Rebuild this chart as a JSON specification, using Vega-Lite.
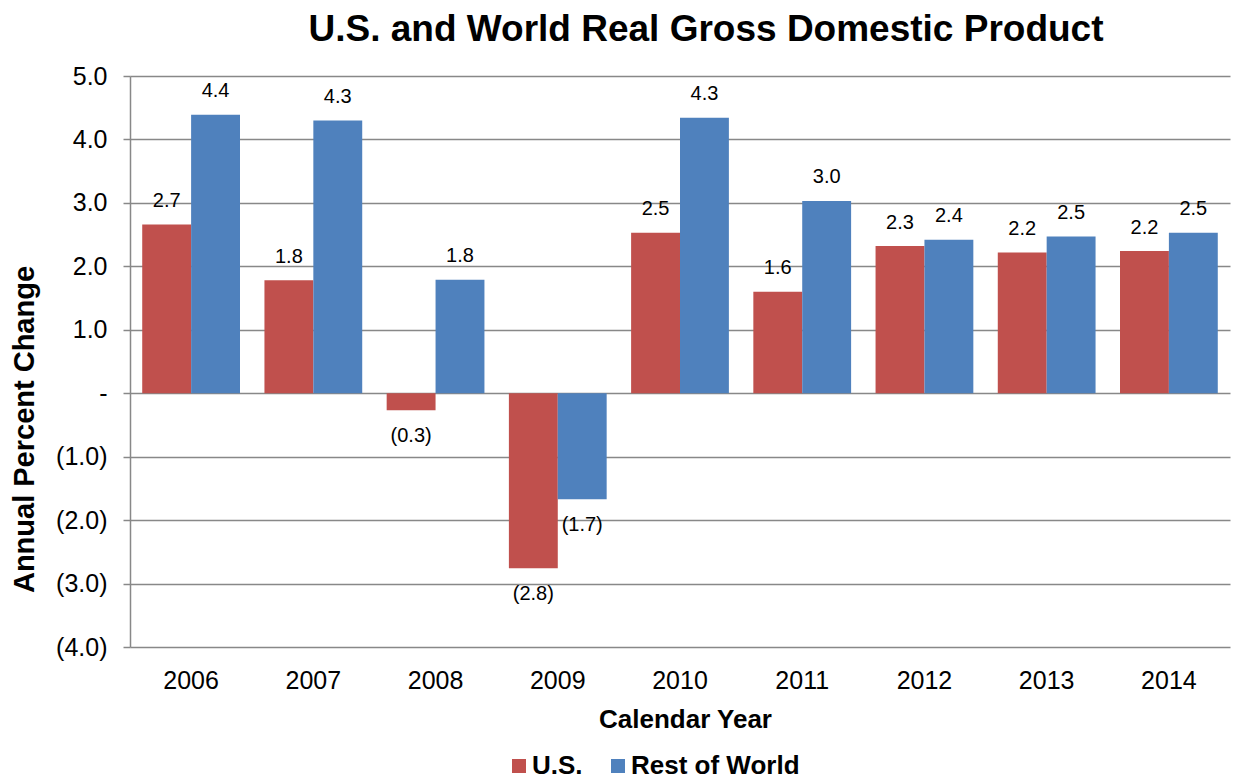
{
  "$schema": "https://vega.github.io/schema/vega-lite/v6.json",
  "width": 1100,
  "height": 571,
  "autosize": {"type": "none"},
  "padding": {"left": 130, "top": 76, "right": 5, "bottom": 133},
  "background": "white",
  "title": {
    "text": "U.S. and World Real Gross Domestic Product",
    "font": "Liberation Sans",
    "fontSize": 37,
    "fontWeight": "bold",
    "color": "#000000",
    "anchor": "middle",
    "dx": 26,
    "offset": 15
  },
  "config": {
    "view": {"stroke": null},
    "font": "Liberation Sans"
  },
  "data": {
    "values": [
      {"year": "2006", "series": "U.S.", "value": 2.66},
      {"year": "2006", "series": "Rest of World", "value": 4.39},
      {"year": "2007", "series": "U.S.", "value": 1.78},
      {"year": "2007", "series": "Rest of World", "value": 4.30},
      {"year": "2008", "series": "U.S.", "value": -0.27},
      {"year": "2008", "series": "Rest of World", "value": 1.79},
      {"year": "2009", "series": "U.S.", "value": -2.76},
      {"year": "2009", "series": "Rest of World", "value": -1.67},
      {"year": "2010", "series": "U.S.", "value": 2.53},
      {"year": "2010", "series": "Rest of World", "value": 4.34},
      {"year": "2011", "series": "U.S.", "value": 1.60},
      {"year": "2011", "series": "Rest of World", "value": 3.03},
      {"year": "2012", "series": "U.S.", "value": 2.32},
      {"year": "2012", "series": "Rest of World", "value": 2.42},
      {"year": "2013", "series": "U.S.", "value": 2.22},
      {"year": "2013", "series": "Rest of World", "value": 2.47},
      {"year": "2014", "series": "U.S.", "value": 2.24},
      {"year": "2014", "series": "Rest of World", "value": 2.53}
    ]
  },
  "encoding": {
    "x": {
      "field": "year",
      "type": "nominal",
      "sort": ["2006", "2007", "2008", "2009", "2010", "2011", "2012", "2013", "2014"],
      "scale": {"paddingInner": 0.2, "paddingOuter": 0.1},
      "axis": {
        "title": "Calendar Year",
        "titleFont": "Liberation Sans",
        "titleFontSize": 26,
        "titleFontWeight": "bold",
        "titleColor": "#000000",
        "titleBaseline": "alphabetic",
        "titleX": 555,
        "titleY": 80,
        "titleAnchor": "middle",
        "labelAngle": 0,
        "labelFont": "Liberation Sans",
        "labelFontSize": 25,
        "labelColor": "#000000",
        "labelBaseline": "alphabetic",
        "labelPadding": 41,
        "ticks": false,
        "tickSize": 0,
        "domain": false,
        "grid": false
      }
    },
    "xOffset": {
      "field": "series",
      "type": "nominal",
      "scale": {"domain": ["U.S.", "Rest of World"]}
    },
    "y": {
      "field": "value",
      "type": "quantitative",
      "scale": {"domain": [-4, 5], "nice": false, "zero": false},
      "axis": {
        "title": "Annual Percent Change",
        "titleFont": "Liberation Sans",
        "titleFontSize": 29,
        "titleFontWeight": "bold",
        "titleColor": "#000000",
        "titleAngle": -90,
        "titleAlign": "center",
        "titleBaseline": "middle",
        "titleX": -106,
        "titleY": 353,
        "values": [-4, -3, -2, -1, 0, 1, 2, 3, 4, 5],
        "labelExpr": "datum.value === 0 ? '-\u00a0\u00a0\u00a0' : (datum.value > 0 ? format(datum.value, '.1f') + '\u00a0' : format(datum.value, '(.1f'))",
        "labelFont": "Liberation Sans",
        "labelFontSize": 25,
        "labelColor": "#000000",
        "labelPadding": 16,
        "tickSize": 7,
        "tickColor": "#888888",
        "tickWidth": 1.5,
        "domainColor": "#888888",
        "domainWidth": 1.5,
        "grid": true,
        "gridColor": "#888888",
        "gridWidth": 1.5
      }
    }
  },
  "layer": [
    {
      "mark": {"type": "bar"},
      "encoding": {
        "color": {
          "field": "series",
          "type": "nominal",
          "scale": {"domain": ["U.S.", "Rest of World"], "range": ["#C0504D", "#4F81BD"]},
          "legend": {
            "title": null,
            "orient": "none",
            "direction": "horizontal",
            "legendX": 376,
            "legendY": 677,
            "symbolType": "square",
            "symbolSize": 196,
            "symbolStrokeWidth": 0,
            "symbolOpacity": 1,
            "labelFont": "Liberation Sans",
            "labelFontSize": 26,
            "labelFontWeight": "bold",
            "labelColor": "#000000",
            "labelLimit": 0,
            "labelOffset": 0,
            "columnPadding": 22,
            "padding": 0
          }
        }
      }
    },
    {
      "transform": [{"filter": "datum.value >= 0"}],
      "mark": {"type": "text", "baseline": "middle", "align": "center", "dy": -23.5, "fontSize": 20, "font": "Liberation Sans", "color": "#000000"},
      "encoding": {
        "text": {"field": "value", "type": "quantitative", "format": ".1f"}
      }
    },
    {
      "transform": [{"filter": "datum.value < 0"}],
      "mark": {"type": "text", "baseline": "middle", "align": "center", "dy": 26, "fontSize": 20, "font": "Liberation Sans", "color": "#000000"},
      "encoding": {
        "text": {"field": "value", "type": "quantitative", "format": "(.1f"}
      }
    }
  ]
}
